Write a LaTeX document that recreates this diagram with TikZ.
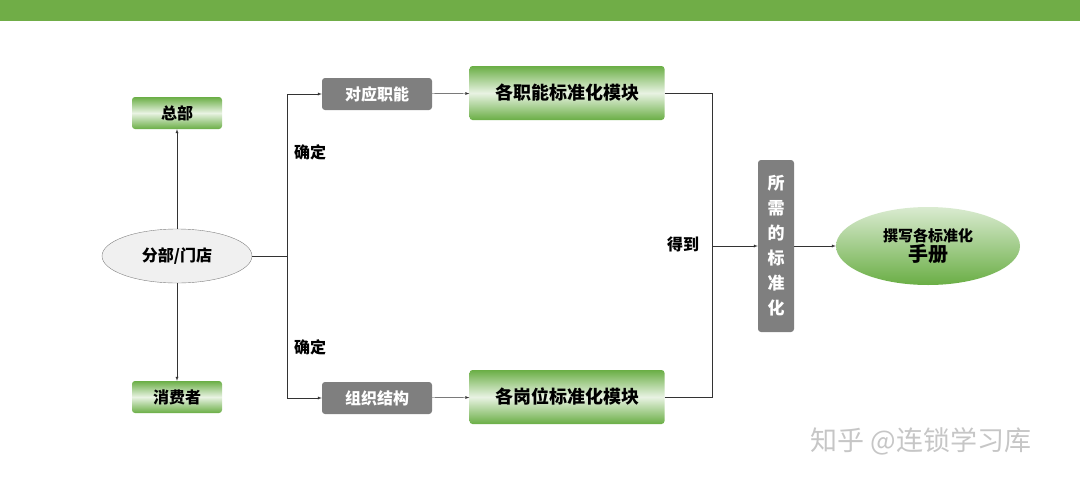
\documentclass[tikz,border=0pt]{standalone}
\usepackage{fontspec}
\setmainfont{Noto Sans CJK SC}
\newfontfamily\cjk{Noto Sans CJK SC}
\usetikzlibrary{arrows,shapes.geometric}
\definecolor{barGreen}{HTML}{70AD47}
\definecolor{boxGreen}{HTML}{6AAE45}
\definecolor{boxGray}{HTML}{7F7F7F}
\tikzset{
  greenbox/.style={rectangle,rounded corners=3pt,top color=boxGreen,bottom color=boxGreen,middle color=white!85!boxGreen,
    font=\cjk\bfseries\fontsize{16pt}{19pt}\selectfont,inner sep=0pt},
  graybox/.style={rectangle,rounded corners=3pt,fill=boxGray,text=white,font=\cjk\bfseries\fontsize{16pt}{19pt}\selectfont,inner sep=0pt},
  edgelabel/.style={font=\cjk\bfseries\fontsize{16pt}{19pt}\selectfont,inner sep=0pt},
  arr/.style={-latex,thin,draw=black!80}
}
\begin{document}
\begin{tikzpicture}[x=1pt,y=-1pt]
  \useasboundingbox (0,0) rectangle (1080,488);
  \fill[barGreen] (0,0) rectangle (1080,21);
  \node[greenbox,minimum width=90,minimum height=32] (hq) at (177,113){总部};
  \node[greenbox,minimum width=90,minimum height=32] (cons) at (177,397){消费者};
  \node[ellipse,draw=gray,fill=gray!12,minimum width=150,minimum height=54,font=\cjk\bfseries\fontsize{16pt}{19pt}\selectfont] (store) at (177,256){分部/门店};
  \node[graybox,minimum width=110,minimum height=32] (func) at (377,94){对应职能};
  \node[graybox,minimum width=110,minimum height=32] (org) at (377,398){组织结构};
  \node[greenbox,minimum width=195,minimum height=54,font=\cjk\bfseries\fontsize{18pt}{21pt}\selectfont] (fmod) at (567,93){各职能标准化模块};
  \node[greenbox,minimum width=195,minimum height=54,font=\cjk\bfseries\fontsize{18pt}{21pt}\selectfont] (pmod) at (567,397){各岗位标准化模块};
  \node[graybox,minimum width=36,minimum height=172,align=center,font=\cjk\bfseries\fontsize{17pt}{25pt}\selectfont] (std) at (776,246){所\\需\\的\\标\\准\\化};
  \node[ellipse,minimum width=184,minimum height=78,top color=white!75!boxGreen,bottom color=boxGreen,
    align=center,font=\cjk\bfseries,inner sep=0pt] (book) at (928,246){{\fontsize{15pt}{18pt}\selectfont 撰写各标准化}\\{\fontsize{20pt}{23pt}\selectfont 手册}};
  \node[edgelabel] (fix1) at (310,152){\fontsize{16pt}{19pt}\selectfont 确定};
  \node[edgelabel] (fix2) at (310,347){\fontsize{16pt}{19pt}\selectfont 确定};
  \node[edgelabel] (get) at (683,244){\fontsize{16pt}{19pt}\selectfont 得到};
  \node[text=gray!45,font=\cjk\fontsize{27pt}{32pt}\selectfont] (mark) at (921,441){知乎 @连锁学习库};
  \coordinate (split) at (287,256);
  \coordinate (join) at (712,246);
  % connectors
  \draw[arr] (store) -- (hq);
  \draw[arr] (store) -- (cons);
  \draw[black!80] (store) -- (split);
  \draw[arr] (split) |- (func);
  \draw[arr] (split) |- (org);
  \draw[arr] (func) -- (fmod);
  \draw[arr] (org) -- (pmod);
  \draw[black!80] (fmod.east) -| (join);
  \draw[black!80] (pmod.east) -| (join);
  \draw[arr] (join) -- (std);
  \draw[arr] (std) -- (book);
\end{tikzpicture}
\end{document}
